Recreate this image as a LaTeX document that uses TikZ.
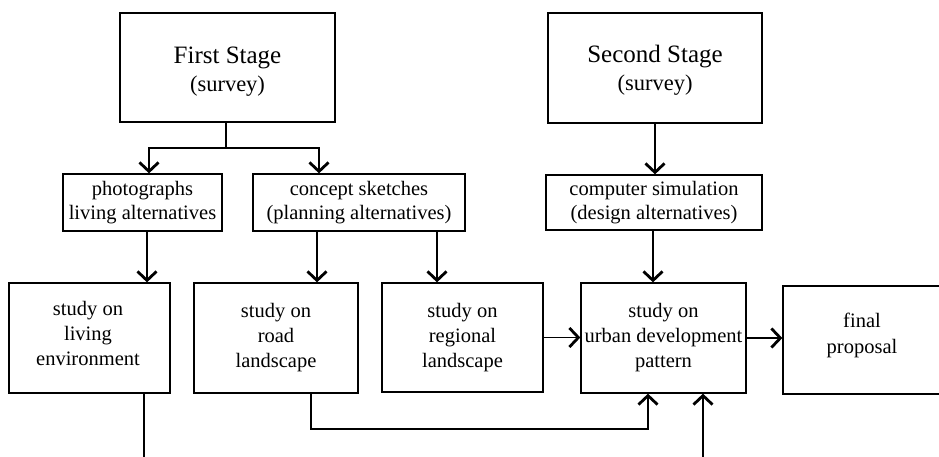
\documentclass[tikz,border=0pt]{standalone}
\usepackage{fontspec}
\setmainfont{Liberation Serif}
\usetikzlibrary{arrows.meta}
\begin{document}
\begin{tikzpicture}[x=1pt,y=-1pt,
  box/.style={draw,line width=1.3pt,rectangle,inner sep=0pt,align=center,
    font=\fontsize{20.5}{25}\selectfont},
  midbox/.style={box,font=\fontsize{20.5}{24}\selectfont},
  txt/.style={inner sep=0pt,align=center,font=\fontsize{20.5}{25}\selectfont},
  conn/.style={line width=1.3pt},
  arr/.style={conn,-{Straight Barb[length=9pt,width=19pt,line width=2.8pt]}}]
\useasboundingbox (0,0) rectangle (939,456);
\clip (0,0) rectangle (939,456);
% top row
\node[box,minimum width=215pt,minimum height=109pt] (first) at (227.5,67.5) {};
\node[txt] (firstText) at (227.5,72)
  {{\fontsize{25}{30}\selectfont First Stage}\\[3pt]{\fontsize{22.5}{27}\selectfont (survey)}};
\node[box,minimum width=214pt,minimum height=110pt] (second) at (655,68) {};
\node[txt] (secondText) at (655,70.5)
  {{\fontsize{25}{30}\selectfont Second Stage}\\[3pt]{\fontsize{22.5}{27}\selectfont (survey)}};
% middle row
\node[midbox,minimum width=159pt,minimum height=57pt] (photo) at (142.5,202.5)
  {photographs\\living alternatives};
\node[midbox,minimum width=212pt,minimum height=57pt] (concept) at (359,202.5)
  {concept sketches\\(planning alternatives)};
\node[midbox,minimum width=216pt,minimum height=55pt] (computer) at (654,202.5)
  {computer simulation\\(design alternatives)};
% lower row
\node[box,minimum width=161pt,minimum height=110pt] (living) at (89.5,338) {};
\node[txt] (livingText) at (88,333) {study on\\living\\environment};
\node[box,minimum width=164pt,minimum height=110pt] (road) at (276,338)
  {study on\\road\\landscape};
\node[box,minimum width=161pt,minimum height=109pt] (regional) at (462.5,337.5)
  {study on\\regional\\landscape};
\node[box,minimum width=165pt,minimum height=110pt] (urban) at (663.5,338)
  {study on\\urban development\\pattern};
\node[box,minimum width=164pt,minimum height=108pt] (final) at (865,340) {};
\node[txt] (finalText) at (862,335.5) {final\\[1pt]proposal};
% coordinates
\coordinate (split) at (226,148);
\coordinate (loopA) at (311,429);
\coordinate (loopB) at (648,429);
\coordinate (livingEnd) at (144,460);
\coordinate (bottomIn) at (703,460);
% connectors
\draw[conn] (first.south -| split) -- (split);
\draw[arr] (split) -| ([xshift=6.5pt]photo.north);
\draw[arr] (split) -| ([xshift=-40pt]concept.north);
\draw[arr] ([xshift=4.5pt]photo.south) -- ([xshift=4.5pt]photo.south |- living.north);
\draw[arr] ([xshift=-42pt]concept.south) -- ([xshift=-42pt]concept.south |- road.north);
\draw[arr] ([xshift=78pt]concept.south) -- ([xshift=78pt]concept.south |- regional.north);
\draw[arr] (second.south) -- (second.south |- computer.north);
\draw[arr] ([xshift=-1pt]computer.south) -- ([xshift=-1pt]computer.south |- urban.north);
\draw[arr] (regional.east) -- (regional.east -| urban.west);
\draw[arr] (urban.east) -- (urban.east -| final.west);
\draw[arr] (road.south -| loopA) -- (loopA) -- (loopB) -- (loopB |- urban.south);
\draw[conn] (living.south -| livingEnd) -- (livingEnd);
\draw[arr] (bottomIn) -- (bottomIn |- urban.south);
\end{tikzpicture}
\end{document}
